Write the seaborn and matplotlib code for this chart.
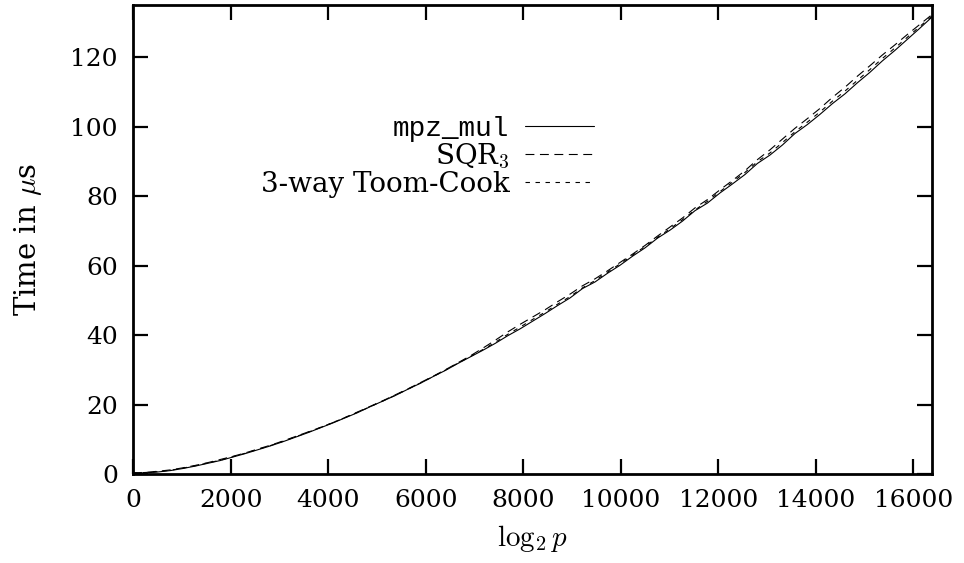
import numpy as np
import pandas as pd
import matplotlib
matplotlib.use("Agg")
import matplotlib.pyplot as plt
import seaborn as sns

# Operand size (log2 p) sampled every 256 bits
log2_p = np.arange(0, 16385, 256)

# Running time in microseconds
t_mpz_mul = [0.3, 0.35, 0.6, 1.0, 1.6, 2.3, 3.1, 3.9, 4.9, 5.9,
             7.0, 8.1, 9.3, 10.6, 11.9, 13.3, 14.7, 16.2, 17.7, 19.4,
             21.0, 22.6, 24.4, 26.1, 28.0, 29.8, 31.8, 33.7, 35.6, 37.6,
             39.8, 41.8, 44.0, 46.2, 48.5, 50.7, 53.4, 55.3, 57.8, 60.1,
             62.7, 65.1, 67.9, 70.2, 72.8, 75.8, 78.0, 80.9, 83.5, 86.2,
             89.4, 91.8, 94.7, 98.0, 100.6, 103.5, 106.6, 109.4, 112.6, 115.6,
             118.9, 121.9, 125.1, 128.3, 131.6]
t_sqr3 = [0.3, 0.5, 0.8, 1.2, 1.8, 2.5, 3.3, 4.2, 5.1, 6.1,
          7.2, 8.3, 9.5, 10.8, 12.1, 13.4, 14.8, 16.3, 17.9, 19.5,
          21.1, 22.8, 24.5, 26.3, 28.1, 30.0, 32.0, 34.0, 36.2, 38.5,
          40.9, 43.1, 45.2, 47.3, 49.6, 51.8, 54.2, 56.2, 58.5, 60.9,
          63.3, 65.8, 68.5, 71.1, 73.7, 76.6, 79.0, 81.8, 84.5, 87.3,
          90.5, 93.3, 96.4, 99.5, 102.3, 105.2, 108.4, 111.3, 114.5, 117.5,
          120.6, 123.5, 126.5, 129.4, 132.3]
t_toom3 = [0.3, 0.45, 0.7, 1.1, 1.7, 2.4, 3.2, 4.0, 5.0, 6.0,
           7.1, 8.2, 9.4, 10.7, 12.0, 13.4, 14.8, 16.3, 17.8, 19.4,
           21.0, 22.7, 24.4, 26.2, 28.0, 29.9, 31.9, 33.8, 35.8, 37.9,
           40.2, 42.3, 44.5, 46.6, 48.9, 51.1, 53.6, 55.7, 58.1, 60.5,
           63.0, 65.5, 68.1, 70.6, 73.2, 76.0, 78.5, 81.3, 84.0, 86.8,
           89.9, 92.4, 95.4, 98.5, 101.3, 104.2, 107.3, 110.2, 113.3, 116.4,
           119.6, 122.6, 125.7, 128.8, 131.9]

series_labels = ["mpz_mul", r"SQR$_3$", "3-way Toom-Cook"]
x_ticks = [0, 2000, 4000, 6000, 8000, 10000, 12000, 14000, 16000]
y_ticks = [0, 20, 40, 60, 80, 100, 120]

sns.set_style("ticks")
plt.rcParams["font.family"] = ["DejaVu Serif"]
plt.rcParams["mathtext.fontset"] = "cm"
for key in ("text.color", "axes.labelcolor", "xtick.color", "ytick.color"):
    plt.rcParams[key] = "black"

df = pd.DataFrame({
    "log2p": np.concatenate([log2_p] * 3),
    "time": np.concatenate([t_mpz_mul, t_sqr3, t_toom3]),
    "series": np.repeat(series_labels, len(log2_p)),
})

fig = plt.figure(figsize=(9.64, 5.63), dpi=100)
ax = fig.add_axes([0.138, 0.158, 0.829, 0.833])

line_dashes = {series_labels[0]: "", series_labels[1]: (8, 5), series_labels[2]: (4, 5)}
sns.lineplot(data=df, x="log2p", y="time", style="series", dashes=line_dashes,
             color="black", linewidth=0.8, ax=ax, legend=True)

ax.set_xlim(0, 16384)
ax.set_ylim(0, 135)
ax.set_xticks(x_ticks)
ax.set_yticks(y_ticks)
ax.tick_params(direction="in", length=11, width=1.6, top=True, right=True,
               labelsize=18, pad=11, colors="black")
for s in ax.spines.values():
    s.set_linewidth(2.0)
    s.set_color("black")

ax.set_xlabel(r"$\log_2 p$", fontsize=21, labelpad=8)
ax.set_ylabel(r"Time in $\mu$s", fontsize=21, labelpad=19)

leg = ax.legend(loc="upper right", bbox_to_anchor=(0.577, 0.764), frameon=False,
                markerfirst=False, fontsize=20, labelspacing=0.0,
                handlelength=2.5, handletextpad=0.55, borderpad=0, borderaxespad=0)
for h in leg.get_lines():
    h.set_linewidth(0.8)
leg.get_texts()[0].set_family("Liberation Mono")
leg.get_texts()[0].set_fontsize(20)

fig.savefig("out.png", dpi=100, facecolor="white")
